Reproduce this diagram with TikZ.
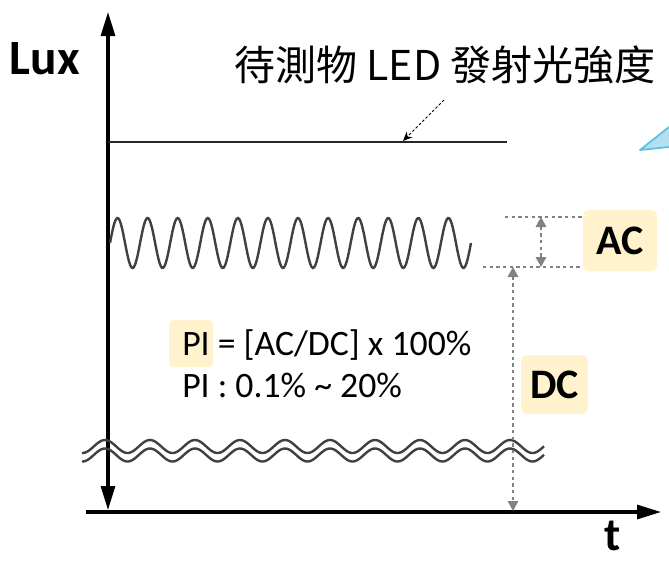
\documentclass[tikz,border=0pt]{standalone}
\usepackage{fontspec}
\setmainfont{Carlito}
\newfontfamily\cjk{Noto Sans CJK TC}
\usetikzlibrary{arrows.meta,positioning,calc}
\definecolor{AxisBlack}{RGB}{0,0,0}
\definecolor{WaveGray}{RGB}{64,64,64}
\definecolor{GuideGray}{RGB}{130,130,130}
\definecolor{MarkYellow}{RGB}{255,242,204}
\definecolor{TipBlue}{RGB}{91,192,222}
\definecolor{TipFill}{RGB}{178,224,238}
\tikzset{
  axtip/.tip={Triangle[length=18pt,width=10.5pt]},
  gtip/.tip={Triangle[length=7.5pt,width=8pt]},
  axisline/.style={AxisBlack,line width=2.3pt},
  axlabel/.style={font=\fontsize{37}{40}\selectfont\bfseries,inner sep=0pt},
  ledline/.style={draw=black!85,line width=1.9pt},
  wave/.style={WaveGray,line width=1.8pt},
  guide/.style={GuideGray,line width=0.9pt,dash pattern=on 2.5pt off 2.5pt},
  markbox/.style={fill=MarkYellow,rounded corners=4pt,inner sep=0pt,
                  font=\fontsize{31.5}{34}\selectfont\bfseries},
  formula/.style={font=\fontsize{26.8}{30}\selectfont,inner sep=0pt,anchor=base west},
}
\begin{document}
\begin{tikzpicture}[x=0.75pt,y=-0.75pt]
  \useasboundingbox (0,0) rectangle (669,562);

  % axes
  \coordinate (o) at (108,512);
  \coordinate (ybot) at (108,510);
  \coordinate (ytop) at (108,12);
  \coordinate (xl) at (86,512);
  \coordinate (xr) at (661,512);
  \draw[axisline,axtip-axtip] (ybot) -- (ytop);
  \draw[axisline,-axtip] (xl) -- (xr);
  \node[axlabel] (lux) at (45,59) {Lux};
  \node[axlabel,font=\fontsize{35}{38}\selectfont\bfseries] (t) at (613,536) {t};

  % title and pointer
  \node[inner sep=0pt,font=\cjk\fontsize{30.8}{33}\selectfont] (ledtitle) at (445,65)
       {待測物 LED 發射光強度};
  \coordinate (ledL) at (108,142);
  \coordinate (ledR) at (507,142);
  \coordinate (ptrS) at (444,100);
  \coordinate (ptrE) at (403,141);
  \draw[ledline] (ledL) -- (ledR);
  \draw[black,line width=0.7pt,dash pattern=on 2pt off 1.5pt,
        -{Stealth[length=7pt,width=6pt]}] (ptrS) -- (ptrE);

  % blue pointer, cut by the edge
  \fill[TipFill] (640,150) -- (669,127) -- (669,147) -- cycle;
  \draw[TipBlue,line width=1.3pt,line join=round] (669,127) -- (640,150) -- (669,147);

  % AC ripple
  \draw[wave] plot[domain=110:471,samples=300]
       (\x,{243-25*sin(11.967*(\x-110))});

  % interrupted DC level
  \draw[wave] plot[domain=82:544,samples=300]
       (\x,{446.5-6.5*cos(8*(\x-105))});
  \draw[wave] plot[domain=82:544,samples=300]
       (\x,{455-6.5*cos(8*(\x-105))});

  % AC and DC marks
  \node[markbox,minimum width=55.5pt,minimum height=45.75pt] (acbox) at (620,240.5) {AC};
  \node[markbox,minimum width=50pt,minimum height=44pt] (dcbox) at (554.5,384.5) {DC};
  \coordinate (acT) at (505,217);
  \coordinate (acB) at (483,267);
  \coordinate (acU) at (541,217);
  \coordinate (acD) at (541,267);
  \coordinate (dcU) at (513,267);
  \coordinate (dcD) at (513,511);
  \draw[guide] (acT) -- (acT -| acbox.west);
  \draw[guide] (acB) -- (acB -| acbox.west);
  \draw[guide,gtip-gtip] (acU) -- (acD);
  \draw[guide,gtip-gtip] (dcU) -- (dcD);

  % formula
  \node[fill=MarkYellow,rounded corners=3pt,minimum width=33pt,minimum height=35pt,
        inner sep=0pt] (pimark) at (191,343.5) {};
  \node[formula] (pieq) at (182,355) {PI = [AC/DC] x 100\%};
  \node[formula] (pirange) at (182,397) {PI : 0.1\% \textasciitilde{} 20\%};
\end{tikzpicture}
\end{document}
